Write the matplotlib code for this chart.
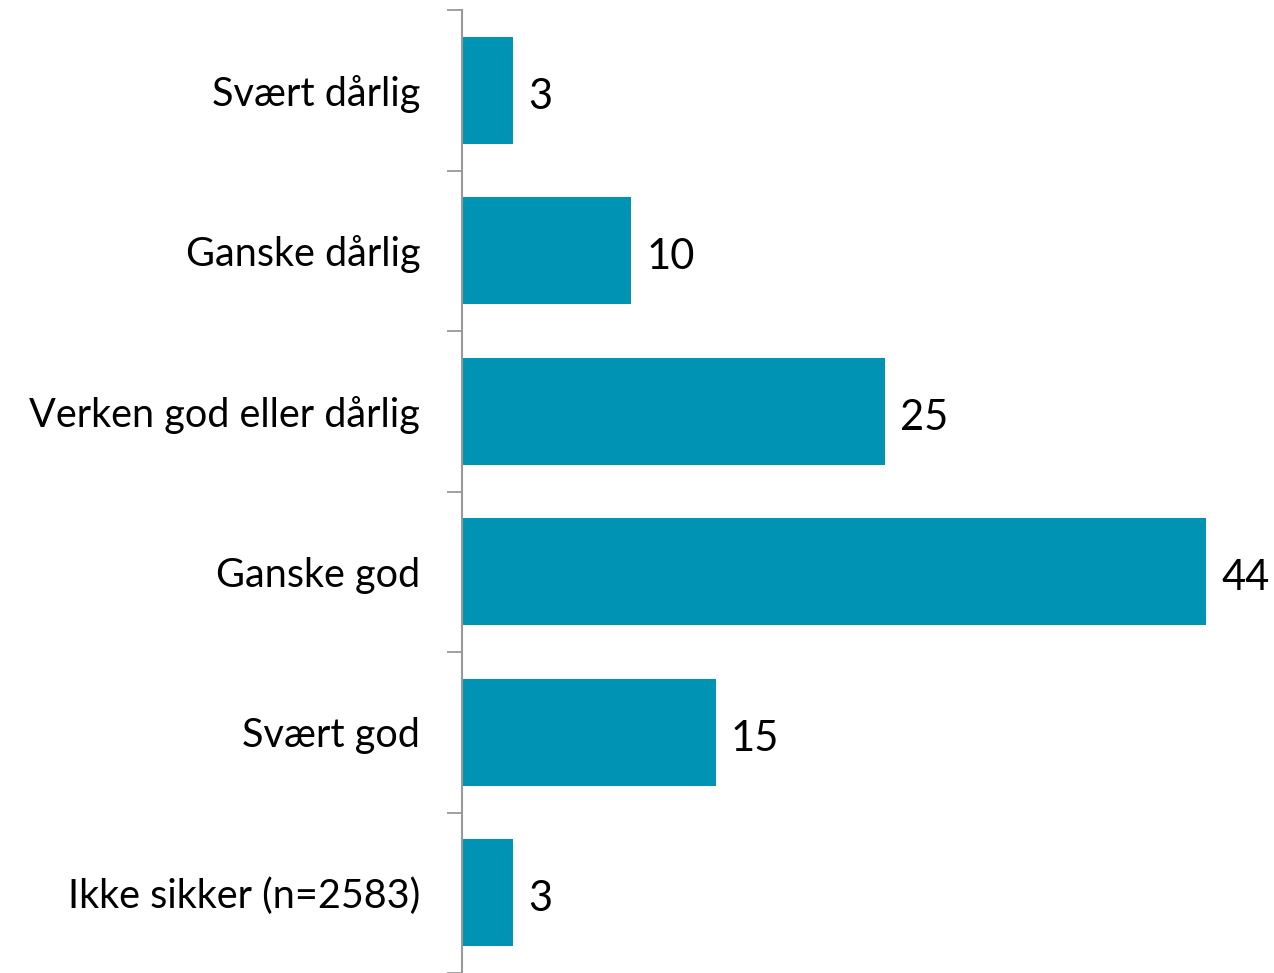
import matplotlib
matplotlib.use('Agg')
import matplotlib.pyplot as plt
import numpy as np

categories = ['Svært dårlig', 'Ganske dårlig', 'Verken god eller dårlig',
              'Ganske god', 'Svært god', 'Ikke sikker (n=2583)']
values = [3, 10, 25, 44, 15, 3]

plt.rcParams['font.family'] = ['Lato', 'DejaVu Sans']

fig = plt.figure(figsize=(12.74, 9.73), dpi=100)
ax = fig.add_axes([462 / 1274, 0, 812 / 1274, 963 / 973])

y = np.arange(len(categories))
ax.barh(y, values, height=0.665, color='#0093b3')
for yi, v in zip(y, values):
    ax.text(v + 0.9, yi + 0.02, str(v), va='center_baseline', ha='left',
            fontsize=30, color='black')

ax.set_xlim(0, 48)
ax.set_ylim(len(categories) - 0.5, -0.5)
ax.set_yticks(y)
ax.set_yticklabels(categories, fontsize=28.5)
ax.tick_params(axis='y', which='major', length=0, pad=30)
ax.set_yticks(np.arange(-0.5, len(categories), 1.0), minor=True)
ax.tick_params(axis='y', which='minor', length=11, width=1.3, color='#999999')
ax.set_xticks([])
for s in ['top', 'right', 'bottom']:
    ax.spines[s].set_visible(False)
ax.spines['left'].set_color('#999999')
ax.spines['left'].set_linewidth(1.5)

fig.savefig('out.png', dpi=100)
